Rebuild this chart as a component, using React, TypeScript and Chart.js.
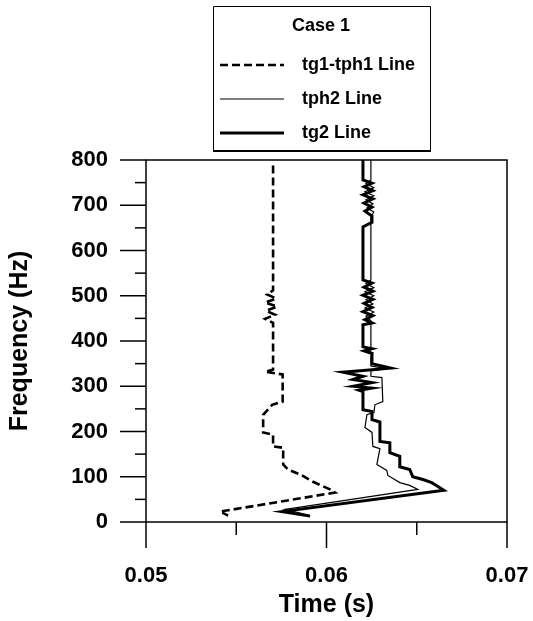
import React, { useEffect, useRef } from "react";
import { Chart, registerables } from "chart.js";

Chart.register(...registerables);

const FONT = "'Liberation Sans', Arial, Helvetica, sans-serif";

// ---- data ----
const legendTitle = "Case 1";
const seriesLabels = ["tg1-tph1 Line", "tph2 Line", "tg2 Line"];

const xTickValues = [0.05, 0.06, 0.07];
const yTickValues = [0, 100, 200, 300, 400, 500, 600, 700, 800];

const dashTime = [
  0.05704, 0.05704, 0.05671, 0.05721, 0.0566, 0.05726, 0.05666, 0.05715, 0.0566, 0.05704,
  0.05704, 0.0566, 0.05757, 0.05757, 0.05699, 0.05649, 0.05649, 0.05704, 0.05704, 0.0576,
  0.0576, 0.05787, 0.05854, 0.05925, 0.06019, 0.06047, 0.05411, 0.05455,
];
const dashFreq = [
  788, 512, 503, 494, 485, 476, 467, 458, 449, 440,
  337, 332, 326, 266, 259, 237, 198, 193, 167, 164,
  127, 116, 105, 89, 72, 65, 23, 14,
];

const thinTime = [
  0.06246, 0.06246, 0.06219, 0.06262, 0.06213, 0.06262, 0.06219, 0.06257, 0.06224, 0.06262,
  0.06246, 0.06246, 0.06219, 0.06262, 0.06213, 0.06262, 0.06219, 0.06257, 0.06213, 0.06262,
  0.06219, 0.06246, 0.06246, 0.06219, 0.06257, 0.06246, 0.06246, 0.0633, 0.06246, 0.06246,
  0.06307, 0.06312, 0.06268, 0.06263, 0.06224, 0.06213, 0.06252, 0.06257, 0.06296, 0.06279,
  0.06334, 0.0634, 0.06406, 0.06461, 0.06506, 0.0577, 0.05905,
];
const thinFreq = [
  800, 756, 748, 739, 730, 721, 712, 703, 694, 685,
  674, 535, 527, 518, 509, 500, 491, 482, 473, 464,
  455, 445, 387, 380, 374, 366, 345, 339, 334, 322,
  319, 266, 259, 242, 237, 209, 198, 167, 162, 127,
  114, 103, 87, 81, 72, 28, 15,
];

const thickTime = [
  0.06202, 0.06202, 0.06252, 0.06208, 0.06257, 0.06202, 0.06257, 0.06208, 0.06252, 0.06213,
  0.06252, 0.06252, 0.06202, 0.06202, 0.06252, 0.06208, 0.06257, 0.06202, 0.06257, 0.06208,
  0.06252, 0.06202, 0.06257, 0.06213, 0.06252, 0.06202, 0.06202, 0.06252, 0.06208, 0.06252,
  0.06252, 0.06356, 0.06091, 0.06202, 0.06147, 0.06252, 0.06147, 0.06252, 0.0618, 0.06202,
  0.06202, 0.06252, 0.06252, 0.06296, 0.06296, 0.06351, 0.06351, 0.06406, 0.06406, 0.06461,
  0.06478, 0.06534, 0.06583, 0.06611, 0.0665, 0.05754, 0.05909,
];
const thickFreq = [
  800, 756, 749, 741, 732, 723, 714, 705, 696, 687,
  676, 662, 652, 535, 528, 519, 510, 501, 492, 483,
  474, 465, 456, 447, 440, 436, 387, 383, 378, 372,
  350, 340, 331, 322, 315, 308, 300, 296, 291, 288,
  248, 244, 226, 221, 178, 175, 153, 145, 122, 116,
  100, 94, 87, 80, 70, 23, 13,
];

function toPoints(xs: number[], ys: number[]) {
  return xs.map((x, i) => ({ x, y: ys[i] }));
}

const framePlugin = {
  id: "framePlugin",
  beforeDraw(chart: any) {
    const ctx = chart.ctx;
    ctx.save();
    ctx.fillStyle = "#ffffff";
    ctx.fillRect(0, 0, chart.width, chart.height);
    ctx.restore();
  },
  afterDraw(chart: any) {
    const ctx = chart.ctx;
    const { left, right, top, bottom } = chart.chartArea;
    const xs = chart.scales.x;
    const ys = chart.scales.y;
    ctx.save();
    ctx.strokeStyle = "#000";
    ctx.lineWidth = 1.5;
    ctx.setLineDash([]);
    ctx.strokeRect(left, top, right - left, bottom - top);

    // y ticks
    for (let i = 0; i < yTickValues.length; i++) {
      const v = yTickValues[i];
      const py = ys.getPixelForValue(v);
      ctx.beginPath();
      ctx.moveTo(left - 26, py);
      ctx.lineTo(left, py);
      ctx.stroke();
      if (i < yTickValues.length - 1) {
        const m = (v + yTickValues[i + 1]) / 2;
        const pm = ys.getPixelForValue(m);
        ctx.beginPath();
        ctx.moveTo(left - 11, pm);
        ctx.lineTo(left, pm);
        ctx.stroke();
      }
    }
    // x ticks
    for (let i = 0; i < xTickValues.length; i++) {
      const v = xTickValues[i];
      const px = xs.getPixelForValue(v);
      ctx.beginPath();
      ctx.moveTo(px, bottom);
      ctx.lineTo(px, bottom + 26);
      ctx.stroke();
      if (i < xTickValues.length - 1) {
        const m = (v + xTickValues[i + 1]) / 2;
        const pm = xs.getPixelForValue(m);
        ctx.beginPath();
        ctx.moveTo(pm, bottom);
        ctx.lineTo(pm, bottom + 13);
        ctx.stroke();
      }
    }

    // legend box
    const bx0 = 213, by0 = 6, bx1 = 430, by1 = 151;
    ctx.lineWidth = 1;
    ctx.beginPath();
    ctx.moveTo(bx0 + 0.5, by1);
    ctx.lineTo(bx0 + 0.5, by0 + 0.5);
    ctx.lineTo(bx1 + 0.5, by0 + 0.5);
    ctx.lineTo(bx1 + 0.5, by1);
    ctx.stroke();
    ctx.lineWidth = 2;
    ctx.beginPath();
    ctx.moveTo(bx0, by1);
    ctx.lineTo(bx1 + 1, by1);
    ctx.stroke();

    ctx.fillStyle = "#000";
    ctx.font = `bold 18px ${FONT}`;
    ctx.textAlign = "center";
    ctx.textBaseline = "middle";
    ctx.fillText(legendTitle, 321, 26);

    const rows = [65, 99, 133];
    chart.data.datasets.forEach((ds: any, i: number) => {
      const y = rows[i];
      ctx.strokeStyle = ds.borderColor;
      ctx.lineWidth = ds.borderWidth;
      ctx.setLineDash(ds.borderDash || []);
      ctx.beginPath();
      ctx.moveTo(220, y);
      ctx.lineTo(284, y);
      ctx.stroke();
      ctx.setLineDash([]);
      ctx.textAlign = "left";
      ctx.fillText(ds.label, 302, y);
    });
    ctx.restore();
  },
};

export default function App() {
  const ref = useRef<HTMLCanvasElement | null>(null);
  useEffect(() => {
    const canvas = ref.current;
    if (!canvas) return;
    const chart = new Chart(canvas, {
      type: "scatter",
      data: {
        datasets: [
          {
            label: seriesLabels[0],
            data: toPoints(dashTime, dashFreq),
            showLine: true,
            borderColor: "#000",
            borderWidth: 2.6,
            borderDash: [8, 4],
            pointRadius: 0,
            fill: false,
            tension: 0,
          },
          {
            label: seriesLabels[1],
            data: toPoints(thinTime, thinFreq),
            showLine: true,
            borderColor: "#000",
            borderWidth: 1.2,
            pointRadius: 0,
            fill: false,
            tension: 0,
          },
          {
            label: seriesLabels[2],
            data: toPoints(thickTime, thickFreq),
            showLine: true,
            borderColor: "#000",
            borderWidth: 3,
            pointRadius: 0,
            fill: false,
            tension: 0,
          },
        ],
      },
      options: {
        animation: false,
        responsive: false,
        devicePixelRatio: 1,
        layout: { padding: { top: 160, right: 26, bottom: 0, left: 0 } },
        plugins: {
          legend: { display: false },
          tooltip: { enabled: false },
          title: { display: false },
        },
        scales: {
          x: {
            type: "linear",
            min: 0.05,
            max: 0.07,
            afterFit: (s: any) => {
              s.height = 99;
            },
            afterBuildTicks: (s: any) => {
              s.ticks = xTickValues.map((v) => ({ value: v }));
            },
            ticks: {
              color: "#000",
              padding: 0,
              maxRotation: 0,
              font: { family: FONT, size: 22, weight: "bold" },
              callback: (v: any) => Number(v).toFixed(2),
            },
            grid: {
              display: true,
              drawOnChartArea: false,
              drawTicks: true,
              tickLength: 41,
              color: "rgba(0,0,0,0)",
              tickColor: "rgba(0,0,0,0)",
            },
            border: { display: false },
            title: {
              display: true,
              text: "Time (s)",
              color: "#000",
              font: { family: FONT, size: 25, weight: "bold" },
              padding: { top: 0, bottom: 1 },
            },
          },
          y: {
            type: "linear",
            min: 0,
            max: 800,
            afterFit: (s: any) => {
              s.width = 146;
            },
            afterBuildTicks: (s: any) => {
              s.ticks = yTickValues.map((v) => ({ value: v }));
            },
            ticks: {
              color: "#000",
              padding: 0,
              font: { family: FONT, size: 22, weight: "bold" },
              callback: (v: any) => String(v),
            },
            grid: {
              display: true,
              drawOnChartArea: false,
              drawTicks: true,
              tickLength: 38,
              color: "rgba(0,0,0,0)",
              tickColor: "rgba(0,0,0,0)",
            },
            border: { display: false },
            title: {
              display: true,
              text: "Frequency (Hz)",
              color: "#000",
              font: { family: FONT, size: 25, weight: "bold" },
              padding: { top: 5, bottom: 0 },
            },
          },
        },
      },
      plugins: [framePlugin],
    } as any);
    return () => chart.destroy();
  }, []);

  return (
    <div style={{ position: "absolute", left: 0, top: 0, width: 533, height: 621, background: "#fff" }}>
      <canvas ref={ref} width={533} height={621} style={{ display: "block" }} />
    </div>
  );
}
